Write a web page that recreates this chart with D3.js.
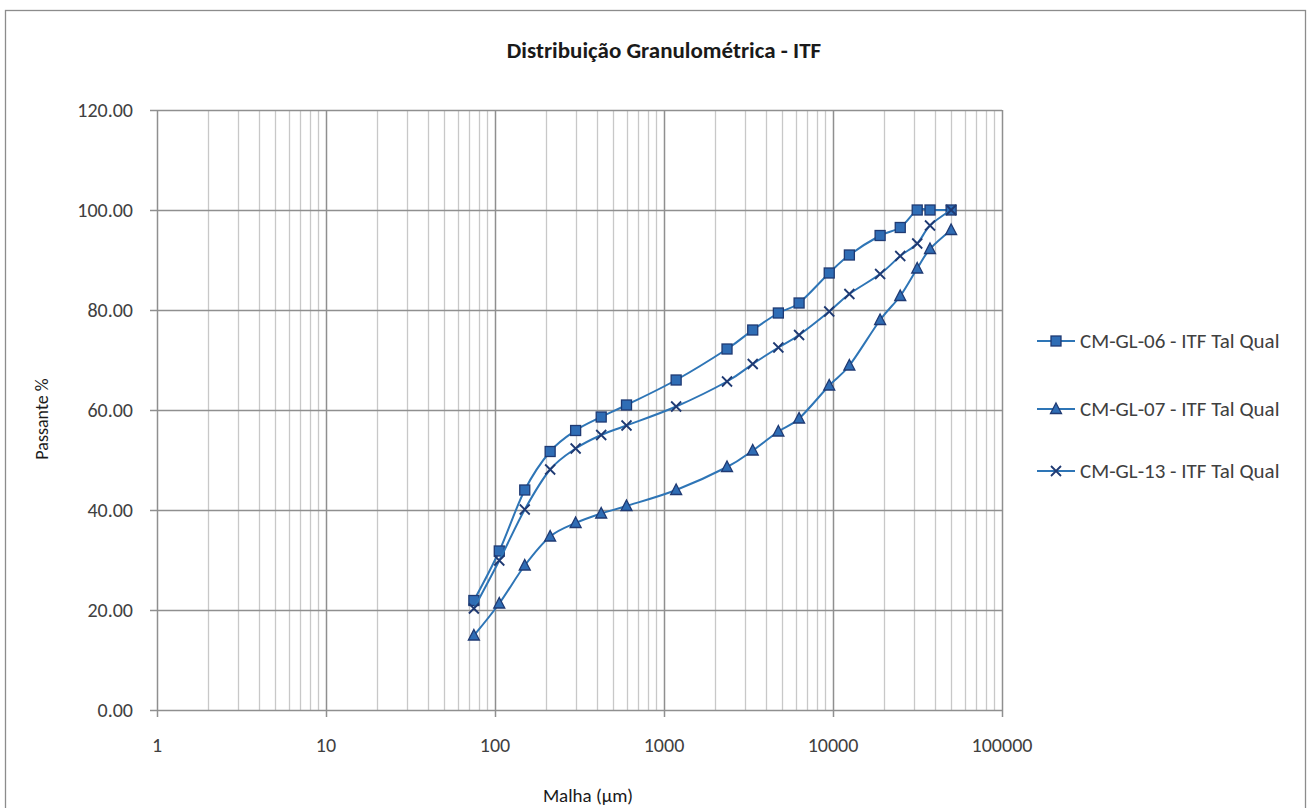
<!DOCTYPE html>
<html><head><meta charset="utf-8">
<script src="https://cdn.jsdelivr.net/npm/d3@7"></script>
<style>body{margin:0;background:#fff}svg{display:block;font-family:Carlito,Calibri,Lato,"Open Sans",sans-serif}</style>
</head><body><svg id="c" width="1309" height="808"></svg>
<script>
const sieves = [75,106,150,212,300,425,600,1180,2360,3350,4750,6300,9500,12500,19000,25000,31500,37500,50000];
const gl06 = [21.9,31.8,44.0,51.7,55.9,58.6,61.0,66.0,72.2,76.0,79.4,81.4,87.4,91.0,94.9,96.5,100,100,100];
const gl07 = [14.9,21.3,28.9,34.7,37.4,39.3,40.8,44.0,48.6,51.9,55.7,58.3,64.9,68.9,78.0,82.8,88.3,92.2,96.0];
const gl13 = [20.3,29.9,40.1,48.1,52.3,55.0,56.9,60.7,65.7,69.2,72.5,75.0,79.7,83.2,87.2,90.8,93.3,96.9,100];
const seriesNames = ["CM-GL-06 - ITF Tal Qual","CM-GL-07 - ITF Tal Qual","CM-GL-13 - ITF Tal Qual"];
const yTicks = [0,20,40,60,80,100,120];
const xTicks = [1,10,100,1000,10000,100000];

const svg = d3.select("#c");
const L=157,R=1002,T=110,B=710;
const x = d3.scaleLog().domain([1,100000]).range([L,R]);
const y = d3.scaleLinear().domain([0,120]).range([B,T]);
const lineC="#2E75B6", markFill="#2F6DB5", markStroke="#1F3A73";

svg.append("rect").attr("x",5.5).attr("y",10.5).attr("width",1300).attr("height",810)
  .attr("fill","#fff").attr("stroke","#8c8c8c").attr("stroke-width",1.3);

// minor vertical grid
const minor=[];
for(let d=1; d<100000; d*=10) for(let k=2;k<10;k++) minor.push(d*k);
svg.append("g").selectAll("line").data(minor).join("line")
  .attr("x1",d=>Math.round(x(d))+0.5).attr("x2",d=>Math.round(x(d))+0.5).attr("y1",T).attr("y2",B)
  .attr("stroke","#c8c8c8").attr("stroke-width",1.3);
// major vertical grid
svg.append("g").selectAll("line").data(xTicks).join("line")
  .attr("x1",d=>Math.round(x(d))+0.5).attr("x2",d=>Math.round(x(d))+0.5).attr("y1",T).attr("y2",B+7)
  .attr("stroke","#8f8f8f").attr("stroke-width",1.5);
// horizontal grid
svg.append("g").selectAll("line").data(yTicks).join("line")
  .attr("x1",L-7).attr("x2",R).attr("y1",d=>Math.round(y(d))+0.5).attr("y2",d=>Math.round(y(d))+0.5)
  .attr("stroke","#8f8f8f").attr("stroke-width",1.5);

// tick labels
svg.append("g").selectAll("text").data(yTicks).join("text")
  .attr("x",133).attr("y",d=>y(d)).attr("dy","0.35em").attr("text-anchor","end")
  .attr("font-size",20).attr("fill","#404040").text(d=>d.toFixed(2));
svg.append("g").selectAll("text").data(xTicks).join("text")
  .attr("x",d=>x(d)).attr("y",745).attr("dy","0.35em").attr("text-anchor","middle")
  .attr("font-size",20).attr("fill","#404040").text(d=>String(d));

// titles
svg.append("text").attr("x",664).attr("y",50).attr("dy","0.35em").attr("text-anchor","middle")
  .attr("font-size",23).attr("font-weight","bold").attr("fill","#1a1a1a").text("Distribuição Granulométrica - ITF");
svg.append("text").attr("transform","translate(42,419) rotate(-90)").attr("dy","0.35em").attr("text-anchor","middle")
  .attr("font-size",18).attr("fill","#1a1a1a").text("Passante %");
svg.append("text").attr("x",588).attr("y",795).attr("dy","0.35em").attr("text-anchor","middle")
  .attr("font-size",19).attr("fill","#1a1a1a").text("Malha (µm)");

const line = d3.line().x(d=>x(d[0])).y(d=>y(d[1])).curve(d3.curveCardinal.tension(0));
const sets=[gl06,gl07,gl13];
const markers=["square","triangle","x"];

function drawMarker(g,type,cx,cy){
  if(type==="square"){
    g.append("rect").attr("x",cx-5).attr("y",cy-5).attr("width",10).attr("height",10)
      .attr("fill",markFill).attr("stroke",markStroke).attr("stroke-width",1.3);
  } else if(type==="triangle"){
    g.append("path").attr("d",`M${cx},${cy-6}L${cx+5.5},${cy+4.5}L${cx-5.5},${cy+4.5}Z`)
      .attr("fill",markFill).attr("stroke",markStroke).attr("stroke-width",1.3);
  } else {
    g.append("path").attr("d",`M${cx-5},${cy-5}L${cx+5},${cy+5}M${cx+5},${cy-5}L${cx-5},${cy+5}`)
      .attr("fill","none").attr("stroke",markStroke).attr("stroke-width",1.8);
  }
}

sets.forEach((vals,i)=>{
  const pts = sieves.map((s,j)=>[s,vals[j]]);
  svg.append("path").datum(pts).attr("d",line).attr("fill","none").attr("stroke",lineC).attr("stroke-width",2);
  const g=svg.append("g");
  pts.forEach(p=>drawMarker(g,markers[i],x(p[0]),y(p[1])));
});

// legend
const legY=[341,409,471];
seriesNames.forEach((n,i)=>{
  const g=svg.append("g");
  g.append("line").attr("x1",1037).attr("x2",1075).attr("y1",legY[i]).attr("y2",legY[i]).attr("stroke",lineC).attr("stroke-width",2);
  drawMarker(g,markers[i],1056,legY[i]);
  g.append("text").attr("x",1080).attr("y",legY[i]).attr("dy","0.35em").attr("font-size",21).attr("fill","#404040").text(n);
});
</script></body></html>
